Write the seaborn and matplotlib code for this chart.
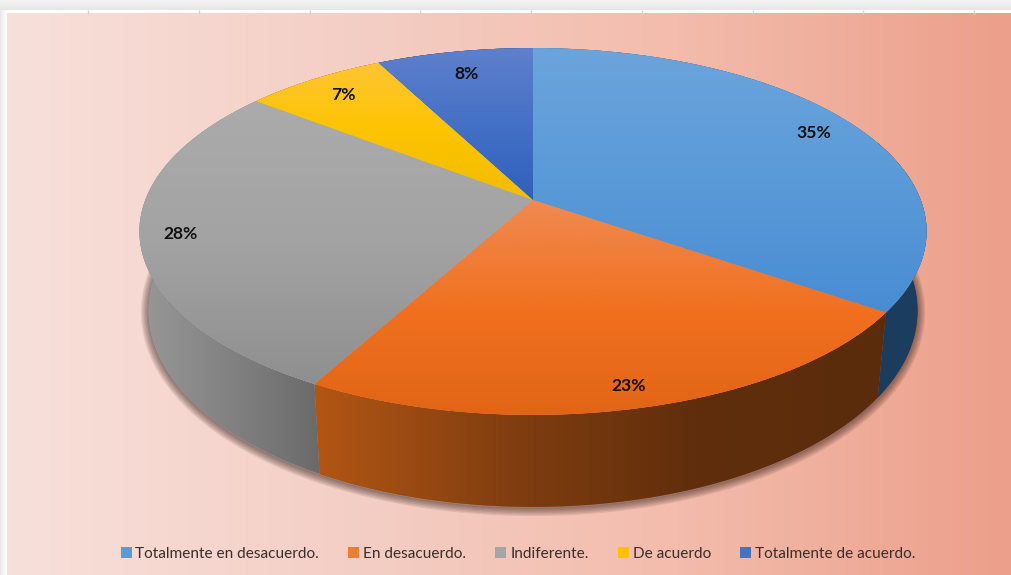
import numpy as np
import matplotlib
matplotlib.use("Agg")
import matplotlib.pyplot as plt
import seaborn as sns
from matplotlib.patches import Patch, Polygon
from matplotlib.transforms import Transform

# Survey responses, in percent
categories = ["Totalmente en desacuerdo.", "En desacuerdo.", "Indiferente.",
              "De acuerdo", "Totalmente de acuerdo."]
shares = [34.7, 23.3, 27.6, 6.9, 7.6]

# Office-style series colours used for the legend swatches
series_colors = ["#5B9BD5", "#ED7D31", "#A5A5A5", "#FFC000", "#4472C4"]

# Vertical shading of the upper face of each slice (top to bottom)
face_shades = [
    ["#6CA4DC", "#5A9AD8", "#488CD2"],
    ["#F08A52", "#F0701F", "#E06415"],
    ["#ABABAB", "#A3A3A3", "#8F8F8F"],
    ["#FFC535", "#FCC400", "#F2BC00"],
    ["#5F80CC", "#4470C6", "#3060BC"],
]
# Horizontal shading of the outer wall of each slice (left to right)
wall_shades = [
    ["#1B3C5C", "#1C3F60"],
    ["#B25614", "#823E10", "#602E0C", "#5A2C0C"],
    ["#989898", "#828282", "#6A6A6A"],
    ["#7F6000", "#7F6000"],
    ["#223962", "#223962"],
]
# Radial placement of each percentage label inside its slice
label_radius = [0.875, 0.912, 0.90, 0.85, 0.83]

WIDTH, HEIGHT = 1011, 575
PANEL_LEFT, PANEL_TOP = 7, 13


class DiskPerspective(Transform):
    """Projects the unit circle of the pie onto a tilted disc."""
    input_dims = 2
    output_dims = 2
    is_separable = False
    has_inverse = False

    def __init__(self, cx, cy, sx, sy, k):
        super().__init__()
        self.cx, self.cy, self.sx, self.sy, self.k = cx, cy, sx, sy, k

    def transform_non_affine(self, values):
        values = np.asarray(values, dtype=float)
        u, v = values[:, 0], values[:, 1]
        w = 1 + self.k * v
        return np.column_stack((self.cx + self.sx * u / w,
                                self.cy - self.sy * v / w))


def gradient(stops, vertical):
    rgb = np.array(sns.blend_palette(stops, n_colors=256))
    return rgb[:, None, :] if vertical else rgb[None, :, :]


def lower_rim(points):
    """Outline of the disc's underside, seen lower and slightly narrower."""
    x = 533 + (points[:, 0] - 533) * 0.977
    y = 200 + (points[:, 1] - 200) * 1.07 + 77
    return np.column_stack((x, y))


sns.set_theme(style="white")
plt.rcParams["font.family"] = ["Lato", "DejaVu Sans"]

fig = plt.figure(figsize=(WIDTH / 100, HEIGHT / 100), dpi=100, facecolor="white")
ax = fig.add_axes([0, 0, 1, 1])

disc = DiskPerspective(533, 200, 387.7, 178, 0.1716)

wedges, _, pct_labels = ax.pie(
    shares, startangle=90, counterclock=False, colors=series_colors,
    autopct="%.0f%%", pctdistance=1.0, labeldistance=None,
    textprops=dict(fontsize=12.6, fontweight="bold", color="#111111"),
)
ax.set_aspect("auto")

# Window furniture around the chart area
ax.imshow(gradient(["#F4F4F4", "#E6E6E6"], True), extent=(0, WIDTH, 10, 0),
          aspect="auto", zorder=0)
ax.imshow(gradient(["#E8E8E8", "#F6F6F6", "#FDFDFD"], False),
          extent=(0, PANEL_LEFT, HEIGHT, 10), aspect="auto", zorder=0)
ax.vlines(88 + 110.75 * np.arange(9), 10, 14, color="#D2D2D2", lw=1, zorder=0.5)

# Chart area background
ax.imshow(gradient(["#F8E0DA", "#F4CFC6", "#F3BCAC", "#EC9F8A"], False),
          extent=(PANEL_LEFT, WIDTH, HEIGHT, PANEL_TOP), aspect="auto", zorder=0.2)

# Soft shadow cast under the disc
angles = np.linspace(0, 2 * np.pi, 361)
rim = disc.transform(np.column_stack((np.sin(angles), np.cos(angles))))
under = lower_rim(rim) + np.array([0, 1.5])
for lw in (11, 9, 7, 5, 3, 1):
    ax.add_patch(Polygon(under, closed=True, facecolor="none",
                         edgecolor="#2E1A16", lw=lw, alpha=0.1, zorder=2))

for i, wedge in enumerate(wedges):
    # Outer wall between the upper and the lower rim of the slice
    theta = np.radians(np.linspace(wedge.theta1, wedge.theta2, 160))
    arc = disc.transform(np.column_stack((np.cos(theta), np.sin(theta))))
    outline = np.vstack((arc, lower_rim(arc)[::-1]))
    wall = Polygon(outline, closed=True, facecolor=wall_shades[i][0],
                   edgecolor="none", zorder=3)
    ax.add_patch(wall)
    shown = outline[outline[:, 1] > 231] if i < 3 else outline
    wall_img = ax.imshow(gradient(wall_shades[i], False),
                         extent=(shown[:, 0].min(), shown[:, 0].max(),
                                 outline[:, 1].max(), outline[:, 1].min()),
                         aspect="auto", interpolation="bilinear", zorder=3.5)
    wall_img.set_clip_path(wall)

    # Upper face, the pie wedge itself seen through the projection
    wedge.set_transform(disc + ax.transData)
    wedge.set_facecolor(face_shades[i][1])
    wedge.set_edgecolor("none")
    wedge.set_zorder(5)
    verts = disc.transform(wedge.get_path().vertices)
    face_img = ax.imshow(gradient(face_shades[i], True),
                         extent=(verts[:, 0].min(), verts[:, 0].max(),
                                 verts[:, 1].max(), verts[:, 1].min()),
                         aspect="auto", interpolation="bilinear", zorder=5.5)
    face_img.set_clip_path(wedge)

for label, radius in zip(pct_labels, label_radius):
    x, y = label.get_position()
    label.set_position((x * radius, y * radius))
    label.set_transform(disc + ax.transData)
    label.set_zorder(10)

swatches = [Patch(facecolor=c, edgecolor="none") for c in series_colors]
legend = ax.legend(
    swatches, categories, ncol=5, loc="center", frameon=False,
    bbox_to_anchor=(518, 554), bbox_transform=ax.transData,
    prop=dict(family="Lato", size=11.05), labelcolor="#3A2E2C",
    handlelength=0.72, handleheight=0.72, handletextpad=0.25, columnspacing=1.9,
)
legend.set_zorder(10)

ax.set_xlim(0, WIDTH)
ax.set_ylim(HEIGHT, 0)
ax.set_axis_off()

fig.savefig("out.png", dpi=100)
